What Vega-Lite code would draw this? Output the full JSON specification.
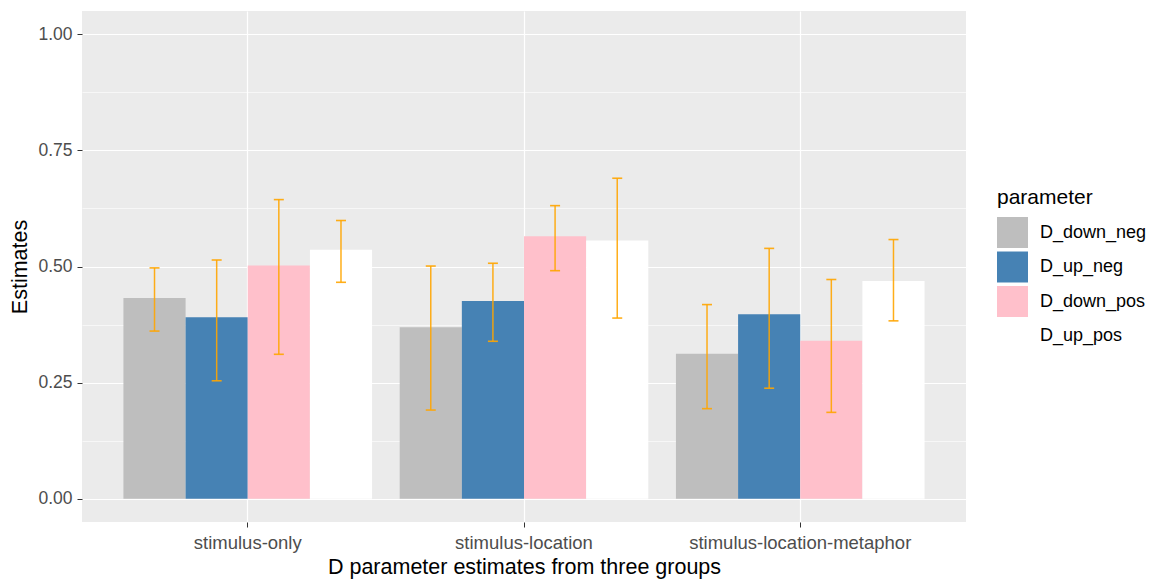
{
  "$schema": "https://vega.github.io/schema/vega-lite/v6.json",
  "width": 884,
  "height": 511,
  "autosize": {"type": "none"},
  "padding": {"left": 82, "top": 11, "right": 190, "bottom": 59},
  "background": "white",
  "config": {
    "font": "Liberation Sans",
    "view": {"fill": "#EBEBEB", "stroke": null},
    "axis": {
      "domain": false,
      "tickColor": "#333333",
      "tickSize": 5,
      "tickWidth": 1,
      "gridColor": "#FFFFFF",
      "labelColor": "#4D4D4D",
      "labelFontSize": 17.5,
      "labelFont": "Liberation Sans",
      "labelLimit": 500,
      "titleFont": "Liberation Sans",
      "titleFontSize": 21.5,
      "titleFontWeight": "normal",
      "titleColor": "#000000"
    }
  },
  "data": {
    "values": [
      {"group": "stimulus-only", "parameter": "D_down_neg", "estimate": 0.432, "lower": 0.361, "upper": 0.497},
      {"group": "stimulus-only", "parameter": "D_up_neg", "estimate": 0.391, "lower": 0.254, "upper": 0.514},
      {"group": "stimulus-only", "parameter": "D_down_pos", "estimate": 0.502, "lower": 0.311, "upper": 0.644},
      {"group": "stimulus-only", "parameter": "D_up_pos", "estimate": 0.536, "lower": 0.466, "upper": 0.599},
      {"group": "stimulus-location", "parameter": "D_down_neg", "estimate": 0.369, "lower": 0.191, "upper": 0.501},
      {"group": "stimulus-location", "parameter": "D_up_neg", "estimate": 0.426, "lower": 0.339, "upper": 0.507},
      {"group": "stimulus-location", "parameter": "D_down_pos", "estimate": 0.565, "lower": 0.491, "upper": 0.631},
      {"group": "stimulus-location", "parameter": "D_up_pos", "estimate": 0.556, "lower": 0.389, "upper": 0.690},
      {"group": "stimulus-location-metaphor", "parameter": "D_down_neg", "estimate": 0.312, "lower": 0.194, "upper": 0.418},
      {"group": "stimulus-location-metaphor", "parameter": "D_up_neg", "estimate": 0.397, "lower": 0.238, "upper": 0.539},
      {"group": "stimulus-location-metaphor", "parameter": "D_down_pos", "estimate": 0.340, "lower": 0.186, "upper": 0.472},
      {"group": "stimulus-location-metaphor", "parameter": "D_up_pos", "estimate": 0.469, "lower": 0.383, "upper": 0.558}
    ]
  },
  "encoding": {
    "x": {
      "field": "group",
      "type": "nominal",
      "sort": ["stimulus-only", "stimulus-location", "stimulus-location-metaphor"],
      "scale": {"paddingInner": 0.1, "paddingOuter": 0.15},
      "axis": {
        "title": "D parameter estimates from three groups",
        "grid": true,
        "labelAngle": 0,
        "labelFontSize": 18.5,
        "labelPadding": 6,
        "titlePadding": 5,
        "bandPosition": 0.5,
        "gridWidth": 1.2
      }
    },
    "xOffset": {
      "field": "parameter",
      "type": "nominal",
      "sort": ["D_down_neg", "D_up_neg", "D_down_pos", "D_up_pos"],
      "scale": {"paddingInner": 0, "paddingOuter": 0}
    }
  },
  "layer": [
    {
      "mark": {"type": "bar"},
      "encoding": {
        "y": {
          "field": "estimate",
          "type": "quantitative",
          "scale": {"domain": [-0.05, 1.05], "nice": false, "zero": false},
          "axis": {
            "title": "Estimates",
            "values": [0, 0.125, 0.25, 0.375, 0.5, 0.625, 0.75, 0.875, 1],
            "labelExpr": "datum.value % 0.25 === 0 ? format(datum.value, '.2f') : ''",
            "tickOpacity": {"condition": {"test": "datum.value % 0.25 === 0", "value": 1}, "value": 0},
            "gridWidth": {"condition": {"test": "datum.value % 0.25 === 0", "value": 1.2}, "value": 0.6},
            "labelPadding": 5,
            "titlePadding": 6
          }
        },
        "color": {
          "field": "parameter",
          "type": "nominal",
          "scale": {
            "domain": ["D_down_neg", "D_up_neg", "D_down_pos", "D_up_pos"],
            "range": ["#BEBEBE", "#4682B4", "#FFC0CB", "#FFFFFF"]
          },
          "legend": {
            "title": "parameter",
            "orient": "none",
            "legendX": 915,
            "legendY": 176,
            "padding": 0,
            "titleFontSize": 21,
            "titleFontWeight": "normal",
            "titleColor": "#000000",
            "titlePadding": 9,
            "labelFontSize": 18,
            "labelColor": "#000000",
            "labelFont": "Liberation Sans",
            "titleFont": "Liberation Sans",
            "symbolType": "square",
            "symbolSize": 961,
            "symbolStrokeWidth": 0,
            "symbolOpacity": 1,
            "rowPadding": 3.5,
            "labelOffset": 12
          }
        }
      }
    },
    {
      "mark": {"type": "rule", "color": "#FFA500", "strokeWidth": 1.5, "opacity": 0.9},
      "encoding": {
        "y": {"field": "lower", "type": "quantitative"},
        "y2": {"field": "upper"}
      }
    },
    {
      "mark": {"type": "tick", "color": "#FFA500", "orient": "horizontal", "size": 10, "thickness": 1.6, "opacity": 0.9},
      "encoding": {
        "y": {"field": "lower", "type": "quantitative"}
      }
    },
    {
      "mark": {"type": "tick", "color": "#FFA500", "orient": "horizontal", "size": 10, "thickness": 1.6, "opacity": 0.9},
      "encoding": {
        "y": {"field": "upper", "type": "quantitative"}
      }
    }
  ]
}
